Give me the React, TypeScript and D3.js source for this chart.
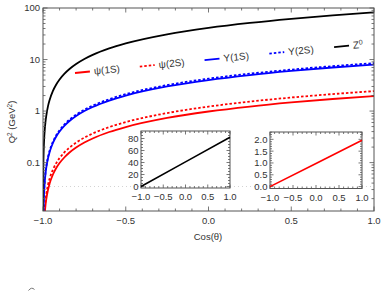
import React from "react";
import * as d3 from "d3";

// cos(theta) samples, dense near -1 where the log curves bend
const cosTheta = [
  -0.9998, -0.9995, -0.999, -0.998, -0.996, -0.993, -0.99, -0.985, -0.98, -0.97, -0.96, -0.94, -0.92,
  -0.9, -0.87, -0.84, -0.8, -0.75, -0.7, -0.6, -0.5, -0.25, 0, 0.25, 0.5, 0.75, 1,
];
const psi1S = [
  0.000196, 0.00049, 0.00098, 0.00196, 0.00392, 0.00686, 0.0098, 0.0147, 0.0196, 0.0294, 0.0392, 0.0588,
  0.0784, 0.098, 0.127, 0.157, 0.196, 0.245, 0.294, 0.392, 0.49, 0.735, 0.98, 1.225, 1.47, 1.715, 1.96,
];
const psi2S = [
  0.000244, 0.00061, 0.00122, 0.00244, 0.00488, 0.00854, 0.0122, 0.0183, 0.0244, 0.0366, 0.0488, 0.0732,
  0.0976, 0.122, 0.159, 0.195, 0.244, 0.305, 0.366, 0.488, 0.61, 0.915, 1.22, 1.525, 1.83, 2.135, 2.44,
];
const ups1S = [
  0.0008, 0.002, 0.004, 0.008, 0.016, 0.028, 0.04, 0.06, 0.08, 0.12, 0.16, 0.24, 0.32, 0.4, 0.52, 0.64,
  0.8, 1.0, 1.2, 1.6, 2.0, 3.0, 4.0, 5.0, 6.0, 7.0, 8.0,
];
const ups2S = [
  0.00085, 0.002125, 0.00425, 0.0085, 0.017, 0.02975, 0.0425, 0.06375, 0.085, 0.1275, 0.17, 0.255, 0.34,
  0.425, 0.5525, 0.68, 0.85, 1.0625, 1.275, 1.7, 2.125, 3.1875, 4.25, 5.3125, 6.375, 7.4375, 8.5,
];
const z0 = [
  0.0082, 0.0205, 0.041, 0.082, 0.164, 0.287, 0.41, 0.615, 0.82, 1.23, 1.64, 2.46, 3.28, 4.1, 5.33, 6.56,
  8.2, 10.25, 12.3, 16.4, 20.5, 30.75, 41, 51.25, 61.5, 71.75, 82,
];

// insets (linear axes)
const insetCos = [-1, 0, 1];
const insetZ0 = [0, 41, 82];
const insetPsi = [0, 0.98, 1.96];

const xTicks = [-1, -0.5, 0, 0.5, 1];
const yTicks = [100, 10, 1, 0.1];
const yTickLabels = ["100", "10", "1", "0.1"];
const inset1YTicks = [0, 20, 40, 60, 80];
const inset2YTicks = [0, 0.5, 1, 1.5, 2];

const series = [
  { name: "ψ(1S)", values: psi1S, color: "#ff0000", dash: null },
  { name: "ψ(2S)", values: psi2S, color: "#ff0000", dash: "2.5,2" },
  { name: "Υ(1S)", values: ups1S, color: "#0000ff", dash: null },
  { name: "Υ(2S)", values: ups2S, color: "#0000ff", dash: "2.5,2" },
  { name: "Z0", values: z0, color: "#000000", dash: null },
];

const font = "'Liberation Sans', Arial, sans-serif";
const txt = "#333";
const frameColor = "#555";

const fmt = (v: number) => v.toFixed(1).replace("-", "−");

function Inset({ x0, x1, y0, y1, yDomain, yTicks, yMinor, yFmt, values, color }: any) {
  const x = d3.scaleLinear().domain([-1, 1]).range([x0, x1]);
  const y = d3.scaleLinear().domain(yDomain).range([y1, y0]);
  const line = d3
    .line<number>()
    .x((_, i) => x(insetCos[i]))
    .y((d) => y(d));
  const xMinor = d3.range(-1, 1.0001, 0.1);
  const yMin = d3.range(0, yDomain[1], yMinor);
  return (
    <g>
      <rect x={x0} y={y0} width={x1 - x0} height={y1 - y0} fill="white" stroke={frameColor} strokeWidth={1} />
      {xMinor.map((t, i) => {
        const major = Math.abs(Math.round(t * 2) - t * 2) < 1e-6;
        const l = major ? 3.5 : 2;
        return (
          <g key={"x" + i} stroke={frameColor} strokeWidth={0.8}>
            <line x1={x(t)} x2={x(t)} y1={y1} y2={y1 - l} />
            <line x1={x(t)} x2={x(t)} y1={y0} y2={y0 + l} />
          </g>
        );
      })}
      {yMin.map((t, i) => {
        const major = yTicks.some((m: number) => Math.abs(m - t) < 1e-6);
        const l = major ? 3.5 : 2;
        return (
          <g key={"y" + i} stroke={frameColor} strokeWidth={0.8}>
            <line x1={x0} x2={x0 + l} y1={y(t)} y2={y(t)} />
            <line x1={x1} x2={x1 - l} y1={y(t)} y2={y(t)} />
          </g>
        );
      })}
      <path d={line(values) || ""} fill="none" stroke={color} strokeWidth={1.6} />
      {xTicks.map((t) => (
        <text key={"xl" + t} x={x(t)} y={y1 + 12} textAnchor="middle" fontSize={9.5} fill={txt}>
          {fmt(t)}
        </text>
      ))}
      {yTicks.map((t: number) => (
        <text key={"yl" + t} x={x0 - 2.5} y={y(t) + 3.4} textAnchor="end" fontSize={9.5} fill={txt}>
          {yFmt(t)}
        </text>
      ))}
    </g>
  );
}

export default function App() {
  const W = 386;
  const H = 291;
  const left = 43;
  const right = 374;
  const top = 8;
  const bottom = 211;

  const x = d3.scaleLinear().domain([-1, 1]).range([left, right]);
  const y = d3.scaleLog().domain([0.0115, 100]).range([bottom, top]);

  const line = (vals: number[]) =>
    d3
      .line<number>()
      .x((_, i) => x(cosTheta[i]))
      .y((d) => y(d))
      .curve(d3.curveMonotoneX)(vals) || "";

  const xMinor = d3.range(-1, 1.0001, 0.1);
  const yMinor: number[] = [];
  for (let e = -2; e <= 1; e++) {
    for (let m = 1; m <= 9; m++) {
      const v = m * Math.pow(10, e);
      if (v >= 0.0115 && v <= 100) yMinor.push(v);
    }
  }
  yMinor.push(100);

  const angle = -5.7;
  const step = 65.1;

  return (
    <svg
      width={W}
      height={H}
      style={{ position: "absolute", left: 0, top: 0, fontFamily: font }}
      fontFamily={font}
    >
      <rect width={W} height={H} fill="white" />
      <defs>
        <clipPath id="plotClip">
          <rect x={left} y={top} width={right - left} height={bottom - top} />
        </clipPath>
      </defs>

      {/* faint dotted line at the inset zero level */}
      <line x1={50} x2={372} y1={186.5} y2={186.5} stroke="#c8c8c8" strokeWidth={0.8} strokeDasharray="1,3" />

      <g clipPath="url(#plotClip)">
        {series.map((s) => (
          <path
            key={s.name}
            d={line(s.values)}
            fill="none"
            stroke={s.color}
            strokeWidth={1.8}
            strokeDasharray={s.dash || undefined}
          />
        ))}
      </g>

      {/* frame */}
      <rect x={left} y={top} width={right - left} height={bottom - top} fill="none" stroke={frameColor} strokeWidth={1} />
      {xMinor.map((t, i) => {
        const major = Math.abs(Math.round(t * 2) - t * 2) < 1e-6;
        const l = major ? 4.5 : 2.5;
        return (
          <g key={"mx" + i} stroke={frameColor} strokeWidth={0.8}>
            <line x1={x(t)} x2={x(t)} y1={bottom} y2={bottom - l} />
            <line x1={x(t)} x2={x(t)} y1={top} y2={top + l} />
          </g>
        );
      })}
      {yMinor.map((t, i) => {
        const major = yTicks.some((m) => Math.abs(m - t) < 1e-9);
        const l = major ? 4.5 : 2.5;
        return (
          <g key={"my" + i} stroke={frameColor} strokeWidth={0.8}>
            <line x1={left} x2={left + l} y1={y(t)} y2={y(t)} />
            <line x1={right} x2={right - l} y1={y(t)} y2={y(t)} />
          </g>
        );
      })}
      {xTicks.map((t) => (
        <text key={"xt" + t} x={x(t)} y={bottom + 13} textAnchor="middle" fontSize={9.5} fill={txt}>
          {fmt(t)}
        </text>
      ))}
      {yTicks.map((t, i) => (
        <text key={"yt" + t} x={left - 3} y={y(t) + 3.4} textAnchor="end" fontSize={9.5} fill={txt}>
          {yTickLabels[i]}
        </text>
      ))}

      <text x={208} y={240} textAnchor="middle" fontSize={9.5} fill={txt}>
        Cos(θ)
      </text>
      <text transform="translate(15,122) rotate(-90)" textAnchor="middle" fontSize={9.5} fill={txt}>
        Q<tspan dy={-3.5} fontSize={6.5}>2</tspan>
        <tspan dy={3.5}> (GeV</tspan>
        <tspan dy={-3.5} fontSize={6.5}>2</tspan>
        <tspan dy={3.5}>)</tspan>
      </text>

      {/* tilted legend */}
      <g transform={`translate(75,73) rotate(${angle})`}>
        {series.map((s, i) => (
          <g key={"lg" + s.name} transform={`translate(${i * step},0)`}>
            <line x1={0} x2={15} y1={0} y2={0} stroke={s.color} strokeWidth={1.8} strokeDasharray={s.dash || undefined} />
            <text x={19} y={3.5} fontSize={10} fill={txt}>
              {s.name === "Z0" ? (
                <>
                  Z<tspan dy={-3.5} fontSize={7}>0</tspan>
                </>
              ) : (
                s.name
              )}
            </text>
          </g>
        ))}
      </g>

      <Inset
        x0={141}
        x1={230}
        y0={131}
        y1={188}
        yDomain={[-2.5, 92.5]}
        yTicks={inset1YTicks}
        yMinor={5}
        yFmt={(v: number) => String(v)}
        values={insetZ0}
        color="#000"
      />
      <Inset
        x0={270}
        x1={362}
        y0={132}
        y1={188.5}
        yDomain={[-0.08, 2.31]}
        yTicks={inset2YTicks}
        yMinor={0.1}
        yFmt={(v: number) => v.toFixed(1)}
        values={insetPsi}
        color="#ff0000"
      />

      {/* top of a glyph cut off by the bottom edge */}
      <path d="M28.5,290.5 Q31.5,286.5 34.5,289.5" fill="none" stroke="#777" strokeWidth={1} />
    </svg>
  );
}
